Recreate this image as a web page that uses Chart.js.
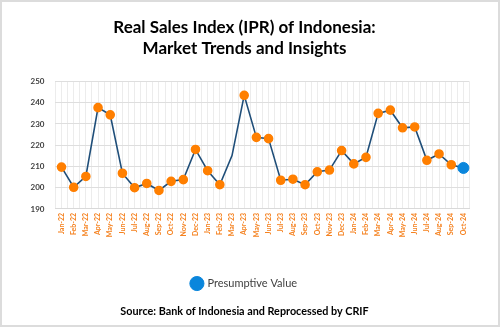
<!DOCTYPE html>
<html>
<head>
<meta charset="utf-8">
<script src="https://cdn.jsdelivr.net/npm/chart.js@4"></script>
<style>
  html, body { margin: 0; padding: 0; background: #fff; }
  #wrap { width: 500px; height: 327px; box-sizing: border-box; border: 2px solid #dcdcdc; }
</style>
</head>
<body>
<div id="wrap"><canvas id="iprChart" width="496" height="323"></canvas></div>
<script>
// month labels Jan-22 .. Oct-24
const months = ['Jan-22','Feb-22','Mar-22','Apr-22','May-22','Jun-22','Jul-22','Aug-22','Sep-22','Oct-22','Nov-22','Dec-22',
                'Jan-23','Feb-23','Mar-23','Apr-23','May-23','Jun-23','Jul-23','Aug-23','Sep-23','Oct-23','Nov-23','Dec-23',
                'Jan-24','Feb-24','Mar-24','Apr-24','May-24','Jun-24','Jul-24','Aug-24','Sep-24','Oct-24'];

// index penjualan riil
const iprValues = [209.7, 200.2, 205.3, 237.7, 234.3, 206.8, 200.0, 202.0, 198.7, 203.0, 203.8, 218.0,
                   208.0, 201.4, 215.1, 243.5, 223.7, 223.1, 203.5, 204.0, 201.4, 207.5, 208.3, 217.5,
                   211.2, 214.3, 235.0, 236.5, 228.2, 228.6, 212.9, 215.9, 210.8, 209.3];

const yTicks = [190, 200, 210, 220, 230, 240, 250];

// month without a marker in the source picture
const noMarkerMonth = 'Mar-23';

const lastIdx = iprValues.length - 1;
const presumptive = iprValues.map((v, i) => i === lastIdx ? v : null);

const ctx = document.getElementById('iprChart').getContext('2d');

const iprChart = new Chart(ctx, {
    type: 'line',
    data: {
        labels: months,
        datasets: [{
            label: 'IPR',
            data: iprValues,
            borderColor: '#1f4e79',
            borderWidth: 1.6,
            pointBackgroundColor: '#ff7f00',
            pointBorderColor: '#ff7f00',
            pointRadius: c => (c.dataIndex === lastIdx || months[c.dataIndex] === noMarkerMonth) ? 0 : 4,
            tension: 0,
            order: 1
        }, {
            label: 'Presumptive Value',
            data: presumptive,
            borderColor: '#0a86dc',
            backgroundColor: '#0a86dc',
            pointBackgroundColor: '#0a86dc',
            pointBorderColor: '#0a86dc',
            pointRadius: 5.5,
            showLine: false,
            order: 0
        }]
    },
    options: {
        responsive: false,
        animation: false,
        layout: { padding: { left: 17.5, right: 28.5, top: 11, bottom: 3 } },
        scales: {
            x: {
                offset: true,
                grid: { offset: false, color: '#ececec', drawTicks: false },
                border: { color: '#d9d9d9' },
                ticks: {
                    color: '#f58220',
                    font: { family: 'Lato', size: 7, weight: 'bold' },
                    minRotation: 90, maxRotation: 90,
                    autoSkip: false,
                    padding: 4
                }
            },
            x2: {
                type: 'category',
                labels: months,
                position: 'top',
                offset: true,
                grid: { offset: true, color: '#ececec', drawTicks: false },
                border: { display: false },
                ticks: { display: false }
            },
            y: {
                min: 190,
                max: 250,
                afterBuildTicks: axis => { axis.ticks = yTicks.map(v => ({ value: v })); },
                grid: { color: '#dedede', drawTicks: false },
                border: { display: false },
                ticks: {
                    color: '#404040',
                    font: { family: 'Lato', size: 8, weight: 'bold' },
                    padding: 11
                }
            }
        },
        plugins: {
            title: {
                display: true,
                text: ['Real Sales Index (IPR) of Indonesia:', 'Market Trends and Insights'],
                color: '#000',
                font: { family: 'Lato', size: 17, weight: 'bold', lineHeight: 1.25 },
                padding: { top: 4, bottom: 22 }
            },
            subtitle: {
                display: true,
                position: 'bottom',
                text: 'Source: Bank of Indonesia and Reprocessed by CRIF',
                color: '#000',
                font: { family: 'Lato', size: 10.8, weight: 'bold' },
                padding: { top: 6, bottom: 4 }
            },
            legend: {
                position: 'bottom',
                title: { display: true, text: '', font: { size: 1 }, padding: { top: 33.5, bottom: 0 } },
                labels: {
                    filter: item => item.datasetIndex === 1,
                    usePointStyle: true,
                    pointStyle: 'circle',
                    boxWidth: 10,
                    boxHeight: 10,
                    color: '#404040',
                    font: { family: 'Lato', size: 11 },
                    padding: 2
                }
            },
            tooltip: { enabled: false }
        }
    }
});
</script>
</body>
</html>
